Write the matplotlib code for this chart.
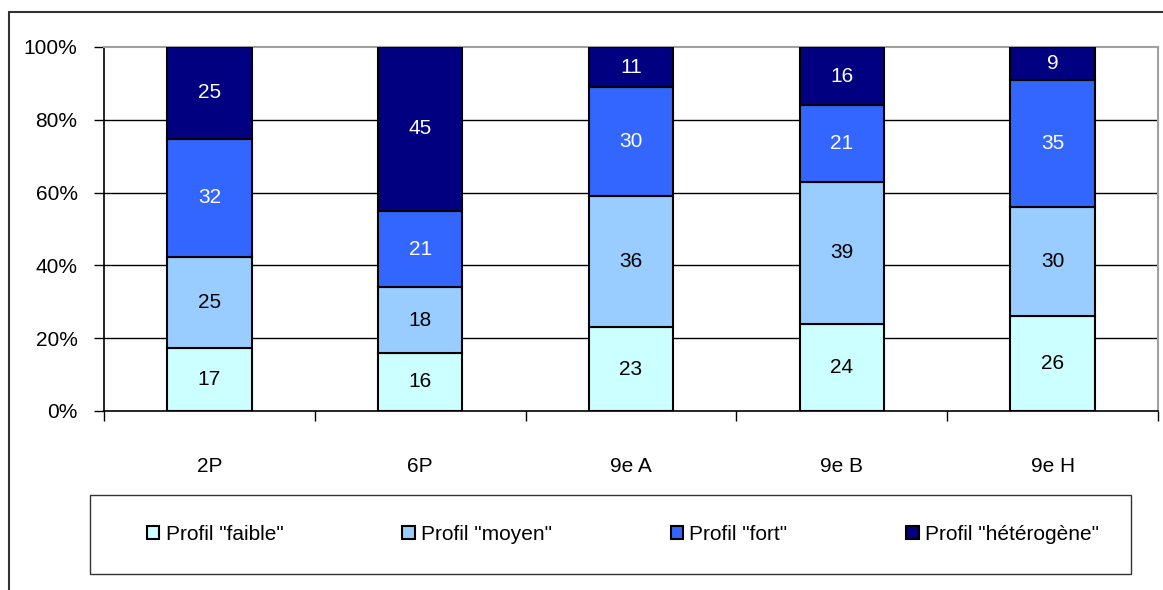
import matplotlib.pyplot as plt
import numpy as np
from matplotlib.patches import Rectangle

plt.rcParams['font.family'] = ['Liberation Sans Narrow', 'Liberation Sans', 'DejaVu Sans']

categories = ['2P', '6P', '9e A', '9e B', '9e H']
faible = [17, 16, 23, 24, 26]
moyen = [25, 18, 36, 39, 30]
fort = [32, 21, 30, 21, 35]
heterogene = [25, 45, 11, 16, 9]

series = [faible, moyen, fort, heterogene]
labels = ['Profil "faible"', 'Profil "moyen"', 'Profil "fort"', 'Profil "hétérogène"']
colors = ['#CCFFFF', '#99CCFF', '#3366FF', '#000080']
text_colors = ['black', 'black', 'white', 'white']

fs = 15

fig = plt.figure(figsize=(11.63, 5.90), dpi=100)
ax = fig.add_axes([104 / 1163, 1 - 411 / 590, (1158 - 104) / 1163, (411 - 47) / 590])

x = np.arange(len(categories))
totals = np.sum(series, axis=0)
bottom = np.zeros(len(categories))
for vals, lab, col, tc in zip(series, labels, colors, text_colors):
    pct = np.array(vals) / totals * 100
    ax.bar(x, pct, width=0.4, bottom=bottom, color=col, edgecolor='black',
           linewidth=1.5, label=lab, zorder=3)
    for xi, b, p, v in zip(x, bottom, pct, vals):
        ax.text(xi, b + p / 2, str(v), ha='center', va='center', color=tc,
                fontsize=fs, zorder=4)
    bottom += pct

ax.set_xlim(-0.5, len(categories) - 0.5)
ax.set_ylim(0, 100)
ax.set_yticks([0, 20, 40, 60, 80, 100])
ax.set_yticklabels(['0%', '20%', '40%', '60%', '80%', '100%'], fontsize=fs)
ax.tick_params(axis='y', direction='out', length=7, width=1, pad=12)
ax.set_xticks(x)
ax.set_xticklabels(categories, fontsize=fs)
ax.tick_params(axis='x', length=0, pad=33)
ax.set_xticks(np.arange(len(categories) + 1) - 0.5, minor=True)
ax.tick_params(axis='x', which='minor', direction='out', length=7, width=1)

for yv in [20, 40, 60, 80]:
    ax.axhline(yv, color='black', linewidth=1, zorder=1)

ax.spines['top'].set_color('#a0a0a0')
ax.spines['right'].set_color('#a0a0a0')
ax.spines['top'].set_linewidth(1.5)
ax.spines['right'].set_linewidth(1.5)
ax.spines['left'].set_linewidth(1.2)
ax.spines['bottom'].set_linewidth(1.2)

# legend entries centred in their own box
leg = fig.legend(loc='center', ncol=4,
                 bbox_to_anchor=(623 / 1163, 1 - 534 / 590),
                 fontsize=fs, frameon=False,
                 handlelength=0.6, handleheight=0.6, handletextpad=0.3,
                 columnspacing=5.7)
for h in leg.legend_handles:
    h.set_linewidth(1.5)

fig.patches.append(Rectangle((90 / 1163, 1 - 574 / 590), (1131 - 90) / 1163, (574 - 495) / 590,
                             transform=fig.transFigure, fill=False,
                             edgecolor='#333333', linewidth=1))
fig.patches.append(Rectangle((9 / 1163, -0.1), 1.2, 1.1 - 12 / 590,
                             transform=fig.transFigure, fill=False,
                             edgecolor='#333333', linewidth=1.5))

fig.savefig('out.png', dpi=100)
